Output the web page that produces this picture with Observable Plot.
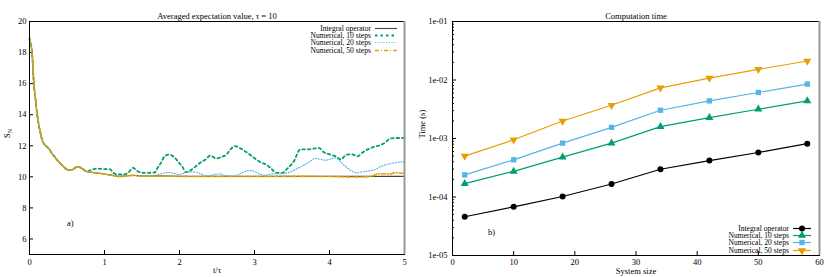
<!DOCTYPE html>
<html><head><meta charset="utf-8">
<script src="https://cdn.jsdelivr.net/npm/d3@7"></script>
<script src="https://cdn.jsdelivr.net/npm/@observablehq/plot@0.6"></script>
<style>
body{margin:0;background:#fff;font-family:"Liberation Serif",serif;}
#wrap{display:flex;width:830px;height:277px;}
.panel{position:relative;width:415px;height:277px;}
.legend{position:absolute;font:7.6px "Liberation Serif",serif;color:#000;}
.legend .row{display:flex;justify-content:flex-end;align-items:center;height:7.4px;line-height:7.4px;white-space:pre;}
.legend svg{margin-left:4px;overflow:visible;}
</style>
</head><body>
<div id="wrap"><div class="panel" id="pa"></div><div class="panel" id="pb"></div></div>
<script>
// ---------- Panel a) data ----------
const seriesNames = ["Integral operator", "Numerical, 10 steps", "Numerical, 20 steps", "Numerical, 50 steps"];
const colors = ["#444444", "#009e73", "#56b4e9", "#e69f00"];

// shared initial decay (all curves overlap)
const tCommon = [0, 0.02, 0.036, 0.058, 0.08, 0.1, 0.125, 0.147, 0.17, 0.19, 0.22, 0.26, 0.3, 0.35, 0.39, 0.44, 0.48, 0.52, 0.555, 0.6, 0.636, 0.67, 0.70, 0.74, 0.77];
const sCommon = [18.9, 18.5, 17.9, 16.0, 15.0, 14.1, 13.3, 12.8, 12.35, 12.15, 12.0, 11.8, 11.5, 11.2, 10.96, 10.72, 10.54, 10.44, 10.43, 10.55, 10.66, 10.62, 10.54, 10.4, 10.33];

const tIntTail = [0.83, 0.9, 1.01, 1.12, 1.2, 1.3, 1.38, 1.5, 1.7, 2.0, 2.5, 3.0, 3.5, 4.0, 4.5, 5.0];
const sIntTail = [10.29, 10.25, 10.17, 10.09, 10.02, 10.07, 10.1, 10.05, 10.06, 10.04, 10.03, 10.03, 10.03, 10.03, 10.03, 10.03];

const t10Tail = [0.8, 0.83, 0.9, 0.99, 1.07, 1.12, 1.19, 1.25, 1.32, 1.38, 1.44, 1.52, 1.59, 1.67, 1.71, 1.76, 1.8, 1.86, 1.93, 1.99, 2.04, 2.08, 2.15, 2.21, 2.28, 2.35, 2.41, 2.49, 2.56, 2.63, 2.68, 2.74, 2.82, 2.89, 2.96, 3.02, 3.09, 3.17, 3.23, 3.29, 3.37, 3.44, 3.49, 3.54, 3.57, 3.61, 3.69, 3.78, 3.86, 3.92, 4.0, 4.08, 4.15, 4.23, 4.3, 4.37, 4.44, 4.51, 4.59, 4.67, 4.74, 4.81, 4.89, 4.98, 5.0];
const s10Tail = [10.4, 10.45, 10.54, 10.49, 10.49, 10.25, 10.15, 10.15, 10.28, 10.58, 10.36, 10.26, 10.26, 10.28, 10.6, 10.96, 11.32, 11.43, 11.26, 10.92, 10.64, 10.3, 10.43, 10.64, 10.92, 11.13, 11.37, 11.18, 11.28, 11.45, 11.77, 11.98, 11.81, 11.6, 11.34, 11.13, 10.92, 10.75, 10.49, 10.26, 10.26, 10.54, 10.79, 11.13, 11.5, 11.77, 11.77, 11.81, 11.86, 11.6, 11.45, 11.32, 11.13, 11.43, 11.45, 11.32, 11.56, 11.77, 11.92, 12.03, 12.2, 12.46, 12.5, 12.5, 12.5];

const t20Tail = [0.83, 0.9, 1.01, 1.12, 1.2, 1.3, 1.38, 1.5, 1.6, 1.7, 1.77, 1.86, 1.93, 1.99, 2.08, 2.17, 2.24, 2.3, 2.37, 2.45, 2.52, 2.6, 2.73, 2.8, 2.84, 2.9, 2.96, 3.01, 3.08, 3.14, 3.2, 3.27, 3.37, 3.46, 3.55, 3.64, 3.72, 3.81, 3.87, 3.95, 4.01, 4.08, 4.15, 4.21, 4.28, 4.36, 4.44, 4.52, 4.61, 4.69, 4.78, 4.89, 5.0];
const s20Tail = [10.29, 10.25, 10.17, 10.09, 10.02, 10.07, 10.1, 10.05, 10.07, 10.12, 10.22, 10.28, 10.22, 10.15, 10.26, 10.32, 10.28, 10.15, 10.07, 10.12, 10.2, 10.1, 10.05, 10.18, 10.28, 10.38, 10.4, 10.32, 10.17, 10.1, 10.15, 10.2, 10.2, 10.28, 10.49, 10.7, 10.92, 11.18, 11.13, 11.07, 11.13, 11.22, 10.96, 10.68, 10.43, 10.26, 10.32, 10.38, 10.47, 10.68, 10.81, 10.92, 10.97];

const t50Tail = [0.83, 0.9, 1.01, 1.12, 1.2, 1.3, 1.38, 1.5, 1.7, 2.0, 2.5, 3.0, 3.5, 4.0, 4.3, 4.5, 4.56, 4.6, 4.65, 4.72, 4.8, 4.87, 5.0];
const s50Tail = [10.29, 10.25, 10.17, 10.08, 10.0, 10.06, 10.09, 10.04, 10.05, 10.03, 10.02, 10.02, 10.03, 10.02, 9.99, 10.0, 10.05, 10.12, 10.2, 10.2, 10.17, 10.26, 10.22];

const xTicksA = [0, 1, 2, 3, 4, 5];
const yTicksA = [6, 8, 10, 12, 14, 16, 18, 20];

// ---------- Panel b) data ----------
const sizes = [2, 10, 18, 26, 34, 42, 50, 58];
const timeIntegral = [4.6e-5, 6.8e-5, 1.02e-4, 1.67e-4, 2.98e-4, 4.2e-4, 5.77e-4, 8.15e-4];
const time10 = [1.69e-4, 2.75e-4, 4.79e-4, 8.34e-4, 1.6e-3, 2.28e-3, 3.16e-3, 4.4e-3];
const time20 = [2.39e-4, 4.32e-4, 8.34e-4, 1.55e-3, 3.04e-3, 4.4e-3, 6.12e-3, 8.5e-3];
const time50 = [4.99e-4, 9.5e-4, 1.99e-3, 3.7e-3, 7.34e-3, 1.08e-2, 1.52e-2, 2.11e-2];
const xTicksB = [0, 10, 20, 30, 40, 50, 60];
const yTicksB = [1e-5, 1e-4, 1e-3, 1e-2, 1e-1];

// ---------- build tables ----------
function table(ts, ss, name) { return ts.map((t, i) => ({t, s: ss[i], name})); }
const curveA = [
  table(tCommon.concat(tIntTail), sCommon.concat(sIntTail), seriesNames[0]),
  table(tCommon.concat(t10Tail), sCommon.concat(s10Tail), seriesNames[1]),
  table(tCommon.concat(t20Tail), sCommon.concat(s20Tail), seriesNames[2]),
  table(tCommon.concat(t50Tail), sCommon.concat(s50Tail), seriesNames[3])
];
const styleA = [
  {stroke: colors[0], strokeWidth: 1.1},
  {stroke: colors[1], strokeWidth: 1.8, strokeDasharray: "2.5,3"},
  {stroke: colors[2], strokeWidth: 1.2, strokeDasharray: "1,1.8"},
  {stroke: colors[3], strokeWidth: 1.6, strokeDasharray: "4,2,1,2"}
];
const timesB = [timeIntegral, time10, time20, time50];
const colorsB = ["#000000", "#009e73", "#56b4e9", "#e69f00"];
const sq3 = Math.sqrt(3);
const triangleDown = {draw(ctx, size) { const y = -Math.sqrt(size / (sq3 * 3)); ctx.moveTo(0, -y * 2); ctx.lineTo(-sq3 * y, y); ctx.lineTo(sq3 * y, y); ctx.closePath(); }};
const symbolsB = ["circle", "triangle", "square", triangleDown];
const tableB = timesB.map((arr, k) => sizes.map((x, i) => ({x, y: arr[i], k})));

const font = {fontFamily: "Liberation Serif, serif", fontSize: "8.5px", background: "white", color: "black", overflow: "visible"};

// ---------- Panel a ----------
const frameHA = 277 - 21 - 23, frameWA = 415 - 29 - 11;
const plotA = Plot.plot({
  width: 415, height: 277, marginLeft: 29, marginRight: 11, marginTop: 21, marginBottom: 23,
  style: font,
  x: {domain: [0, 5], ticks: xTicksA, tickFormat: d => String(d), tickSize: 0, tickPadding: 4, label: null},
  y: {domain: [5, 20], ticks: yTicksA, tickFormat: d => String(d), tickSize: 0, tickPadding: 3, label: null},
  marks: [
    Plot.tickX(xTicksA, {x: d => d, insetTop: frameHA - 4, stroke: "black"}),
    Plot.tickY(yTicksA, {y: d => d, insetRight: frameWA - 4, stroke: "black"}),
    ...curveA.map((d, i) => Plot.line(d, {x: "t", y: "s", ...styleA[i], curve: "monotone-x"})),
    Plot.frame({stroke: "black", strokeWidth: 1}),
    Plot.ruleX([5], {stroke: "#999", strokeWidth: 2}),
    Plot.text(["Averaged expectation value, τ = 10"], {frameAnchor: "top", dy: -9}),
    Plot.text(["t/τ"], {frameAnchor: "bottom", dy: 18.5}),
    Plot.text(["S_N"], {frameAnchor: "left", dx: -22, rotate: -90}),
    Plot.text(["a)"], {x: 0.5, y: 7, textAnchor: "start"})
  ]
});
document.getElementById("pa").appendChild(plotA);
plotA.querySelectorAll("text").forEach(el => {
  if (el.textContent === "S_N") {
    el.textContent = "S";
    const ts = document.createElementNS("http://www.w3.org/2000/svg", "tspan");
    ts.setAttribute("font-size", "6");
    ts.setAttribute("dy", "2");
    ts.textContent = "N";
    el.appendChild(ts);
  }
});

// ---------- Panel b ----------
const frameHB = 277 - 21 - 22, frameWB = 415 - 37 - 11;
const yMinorB = [1e-5, 1e-4, 1e-3, 1e-2].flatMap(d => [2, 3, 4, 5, 6, 7, 8, 9].map(m => m * d));
const plotB = Plot.plot({
  width: 415, height: 277, marginLeft: 37, marginRight: 11, marginTop: 21, marginBottom: 22,
  style: font,
  x: {domain: [0, 60], ticks: xTicksB, tickFormat: d => String(d), tickSize: 0, tickPadding: 3, label: null},
  y: {type: "log", domain: [1e-5, 1e-1], ticks: yTicksB, tickFormat: d => d.toExponential(0).replace(/e-(\d)$/, "e-0$1"), tickSize: 0, tickPadding: 5, label: null},
  marks: [
    Plot.tickX(xTicksB, {x: d => d, insetTop: frameHB - 4, stroke: "black"}),
    Plot.tickY(yTicksB, {y: d => d, insetRight: frameWB - 4, stroke: "black"}),
    Plot.tickY(yMinorB, {y: d => d, insetRight: frameWB - 2, stroke: "black"}),
    ...tableB.map((d, k) => Plot.line(d, {x: "x", y: "y", stroke: colorsB[k], strokeWidth: 1.2})),
    ...tableB.map((d, k) => Plot.dot(d, {x: "x", y: "y", fill: colorsB[k], symbol: symbolsB[k], r: 3})),
    Plot.frame({stroke: "black", strokeWidth: 1}),
    Plot.ruleX([60], {stroke: "#999", strokeWidth: 2}),
    Plot.text(["Computation time"], {frameAnchor: "top", dy: -9}),
    Plot.text(["System size"], {frameAnchor: "bottom", dy: 18.5}),
    Plot.text(["Time (s)"], {frameAnchor: "left", dx: -30, rotate: -90}),
    Plot.text(["b)"], {x: 5.8, y: 2.5e-5, textAnchor: "start"})
  ]
});
document.getElementById("pb").appendChild(plotB);

// ---------- legends (overlay) ----------
function legend(parent, top, right, sampleW, withMarkers) {
  const div = document.createElement("div");
  div.className = "legend";
  div.style.top = top + "px";
  div.style.right = right + "px";
  seriesNames.forEach((name, i) => {
    const row = document.createElement("div");
    row.className = "row";
    const span = document.createElement("span");
    span.textContent = name;
    row.appendChild(span);
    const svg = d3.create("svg").attr("width", sampleW).attr("height", 7);
    if (withMarkers) {
      svg.append("line").attr("x1", 0).attr("x2", sampleW).attr("y1", 3.5).attr("y2", 3.5).attr("stroke", colorsB[i]).attr("stroke-width", 1.2);
      svg.append("path").attr("transform", `translate(${sampleW / 2},3.5)`).attr("fill", colorsB[i])
        .attr("d", d3.symbol(i === 3 ? triangleDown : [d3.symbolCircle, d3.symbolTriangle, d3.symbolSquare][i], 9 * Math.PI)());
    } else {
      const st = styleA[i];
      svg.append("line").attr("x1", 0).attr("x2", sampleW).attr("y1", 3.5).attr("y2", 3.5)
        .attr("stroke", st.stroke).attr("stroke-width", st.strokeWidth).attr("stroke-dasharray", st.strokeDasharray || null);
    }
    row.appendChild(svg.node());
    div.appendChild(row);
  });
  parent.appendChild(div);
}
legend(document.getElementById("pa"), 24.5, 18, 22, false);
legend(document.getElementById("pb"), 224.5, 19, 18, true);
</script>
</body></html>
